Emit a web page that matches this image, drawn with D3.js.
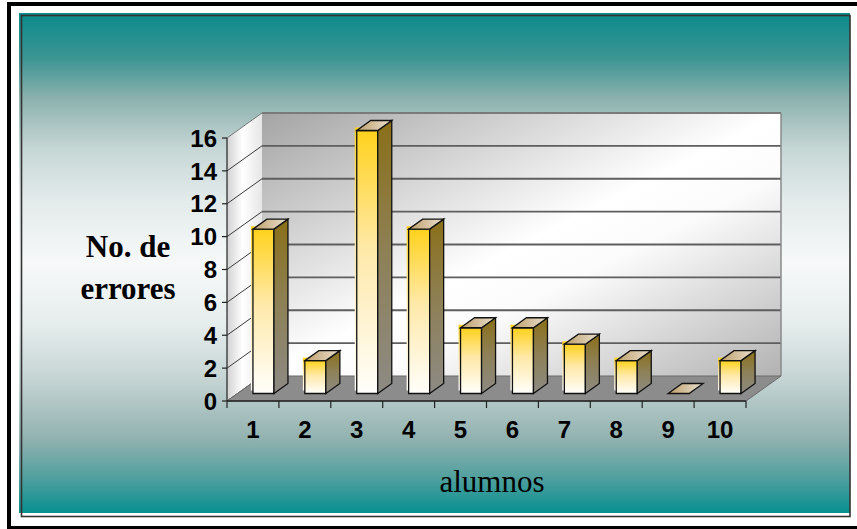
<!DOCTYPE html>
<html>
<head>
<meta charset="utf-8">
<script src="https://cdn.jsdelivr.net/npm/d3@7"></script>
<style>
  html, body { margin: 0; padding: 0; background: #ffffff; }
  svg { display: block; }
</style>
</head>
<body>
<svg id="chart" width="857" height="529"></svg>
<script>
// Errors per student
const categories = ["1", "2", "3", "4", "5", "6", "7", "8", "9", "10"];
const errores = [10, 2, 16, 10, 4, 4, 3, 2, 0, 2];
const yTicks = [0, 2, 4, 6, 8, 10, 12, 14, 16];
const yTitle = ["No. de", "errores"];
const xTitle = "alumnos";

const svg = d3.select("#chart");
const defs = svg.append("defs");

// Plot geometry (front plane) and depth offset for the 3D look
const FRONT_LEFT = 227, FRONT_RIGHT = 746;
const DX = 35, DY = -25;
const Z0 = 0.3, Z1 = 0.7;   // bar depth inside the floor

const x = d3.scaleBand().domain(categories).range([FRONT_LEFT, FRONT_RIGHT]).padding(0);
const y = d3.scaleLinear().domain([0, 16]).range([401, 138]);
const barW = x.bandwidth() * 0.405;

const proj = (px, v, z) => [px + DX * z, y(v) + DY * z];
const poly = pts => pts.map(p => p.join(",")).join(" ");

function linGrad(id, x1, y1, x2, y2, stops, units) {
  const g = defs.append("linearGradient").attr("id", id)
    .attr("x1", x1).attr("y1", y1).attr("x2", x2).attr("y2", y2);
  if (units) g.attr("gradientUnits", units);
  stops.forEach(([o, c]) => g.append("stop").attr("offset", o).attr("stop-color", c));
}

linGrad("bg", 0, 0, 0, 1, [
  [0, "#0a8b8b"], [0.09, "#3b9593"], [0.17, "#8bb1ae"], [0.27, "#c5d6d4"],
  [0.37, "#e2eaea"], [0.5, "#f7f9f9"], [0.62, "#e6eded"], [0.73, "#c6d5d4"],
  [0.85, "#92b2b0"], [0.93, "#50a09e"], [1, "#079090"]
]);
linGrad("backwall", 0, 0, 1, 1, [[0, "#a4a4a4"], [0.5, "#ffffff"], [0.62, "#fbfbfb"], [1, "#b2b2b2"]]);
linGrad("leftwall", 0, 0, 1, 0, [[0, "#d2d2d2"], [0.45, "#ffffff"], [1, "#e6e6e6"]]);
linGrad("front", 0, 0, 0, 1, [[0, "#ffd21c"], [0.45, "#ffe9a8"], [1, "#fffefb"]]);
linGrad("side", 0, 0, 0, 1, [[0, "#8a6f18"], [0.5, "#8e8158"], [1, "#8c8a84"]]);
linGrad("top", 0, 0, 1, 0, [[0, "#bfa06a"], [1, "#e9e0d0"]]);

// Page frame and chart area
svg.append("rect").attr("x", 9).attr("y", 4).attr("width", 852).attr("height", 524)
  .attr("fill", "none").attr("stroke", "#000").attr("stroke-width", 4);
svg.append("rect").attr("x", 19).attr("y", 13).attr("width", 831).attr("height", 500)
  .attr("fill", "url(#bg)");
svg.append("rect").attr("x", 21.5).attr("y", 15.5).attr("width", 828.5).attr("height", 501)
  .attr("fill", "none").attr("stroke", "#333", 1).attr("stroke-width", 1.6);

const plot = svg.append("g");

// Walls and floor
const vMax = 16;
plot.append("polygon")
  .attr("points", poly([proj(FRONT_LEFT, vMax, 0), proj(FRONT_LEFT, vMax, 1), proj(FRONT_LEFT, 0, 1), proj(FRONT_LEFT, 0, 0)]))
  .attr("fill", "url(#leftwall)");
plot.append("polygon")
  .attr("points", poly([proj(FRONT_LEFT, vMax, 1), proj(FRONT_RIGHT, vMax, 1), proj(FRONT_RIGHT, 0, 1), proj(FRONT_LEFT, 0, 1)]))
  .attr("fill", "url(#backwall)");

// Gridlines on back wall and left wall
plot.selectAll("line.grid").data(yTicks.filter(v => v > 0)).join("line")
  .attr("class", "grid")
  .attr("x1", proj(FRONT_LEFT, 0, 1)[0]).attr("x2", proj(FRONT_RIGHT, 0, 1)[0])
  .attr("y1", v => proj(0, v, 1)[1]).attr("y2", v => proj(0, v, 1)[1])
  .attr("stroke", v => v === vMax ? "#7a7a7a" : "#5e5e5e").attr("stroke-width", 1.8);
plot.selectAll("line.lgrid").data(yTicks).join("line")
  .attr("class", "lgrid")
  .attr("x1", FRONT_LEFT).attr("y1", v => y(v))
  .attr("x2", v => proj(FRONT_LEFT, v, 1)[0]).attr("y2", v => proj(FRONT_LEFT, v, 1)[1])
  .attr("stroke", v => v === vMax ? "#777" : "#3a3a3a").attr("stroke-width", 1);
// right edge of back wall
plot.append("line")
  .attr("x1", proj(FRONT_RIGHT, vMax, 1)[0]).attr("y1", proj(FRONT_RIGHT, vMax, 1)[1])
  .attr("x2", proj(FRONT_RIGHT, 0, 1)[0]).attr("y2", proj(FRONT_RIGHT, 0, 1)[1])
  .attr("stroke", "#8a8a8a").attr("stroke-width", 1.5);

plot.append("polygon")
  .attr("points", poly([proj(FRONT_LEFT, 0, 0), proj(FRONT_RIGHT, 0, 0), proj(FRONT_RIGHT, 0, 1), proj(FRONT_LEFT, 0, 1)]))
  .attr("fill", "#8c8c8c").attr("stroke", "#6a6a6a").attr("stroke-width", 1);

// Bars
const bars = plot.selectAll("g.bar").data(categories.map((c, i) => ({ c, v: errores[i] }))).join("g")
  .attr("class", "bar");

bars.each(function (d) {
  const g = d3.select(this);
  const xs = x(d.c) + (x.bandwidth() - barW) / 2;
  const xe = xs + barW;
  if (d.v > 0) {
    const f = [proj(xs, d.v, Z0), proj(xe, d.v, Z0), proj(xe, 0, Z0), proj(xs, 0, Z0)];
    // slightly offset colour layer behind the outlined face
    g.append("polygon").attr("points", poly(f.map(p => [p[0] - 2, p[1] - 3])))
      .attr("fill", "url(#front)");
    g.append("polygon").attr("points", poly(f))
      .attr("fill", "url(#front)").attr("stroke", "#111").attr("stroke-width", 1.3);
    g.append("polygon")
      .attr("points", poly([proj(xe, d.v, Z0), proj(xe, d.v, Z1), proj(xe, 0, Z1), proj(xe, 0, Z0)]))
      .attr("fill", "url(#side)").attr("stroke", "#111").attr("stroke-width", 1.3);
  }
  g.append("polygon")
    .attr("points", poly([proj(xs, d.v, Z0), proj(xe, d.v, Z0), proj(xe, d.v, Z1), proj(xs, d.v, Z1)]))
    .attr("fill", "url(#top)").attr("stroke", "#111").attr("stroke-width", 1.3);
});

// Axes
const axisG = svg.append("g");
axisG.append("line").attr("x1", FRONT_LEFT).attr("x2", FRONT_LEFT).attr("y1", y(vMax)).attr("y2", y(0))
  .attr("stroke", "#222").attr("stroke-width", 1.2);
axisG.append("line").attr("x1", FRONT_LEFT).attr("x2", FRONT_RIGHT).attr("y1", y(0)).attr("y2", y(0))
  .attr("stroke", "#222").attr("stroke-width", 1.5);
axisG.selectAll("line.yt").data(yTicks).join("line").attr("class", "yt")
  .attr("x1", FRONT_LEFT - 5).attr("x2", FRONT_LEFT).attr("y1", v => y(v)).attr("y2", v => y(v))
  .attr("stroke", "#222").attr("stroke-width", 1.2);
const xEdges = categories.map(c => x(c)).concat([FRONT_RIGHT]);
axisG.selectAll("line.xt").data(xEdges).join("line").attr("class", "xt")
  .attr("x1", d => d).attr("x2", d => d).attr("y1", y(0)).attr("y2", y(0) + 7)
  .attr("stroke", "#222").attr("stroke-width", 1.2);

axisG.selectAll("text.yl").data(yTicks).join("text").attr("class", "yl")
  .attr("x", 217).attr("y", v => y(v)).attr("dy", "0.36em")
  .attr("text-anchor", "end")
  .attr("font-family", "Liberation Sans, Arial, sans-serif").attr("font-weight", "bold")
  .attr("font-size", 24).attr("fill", "#000")
  .text(v => v);

axisG.selectAll("text.xl").data(categories).join("text").attr("class", "xl")
  .attr("x", c => x(c) + x.bandwidth() / 2).attr("y", 438)
  .attr("text-anchor", "middle")
  .attr("font-family", "Liberation Sans, Arial, sans-serif").attr("font-weight", "bold")
  .attr("font-size", 24).attr("fill", "#000")
  .text(c => c);

// Titles
svg.selectAll("text.yt").data(yTitle).join("text").attr("class", "yt")
  .attr("x", 128).attr("y", (d, i) => 257 + i * 42)
  .attr("text-anchor", "middle")
  .attr("font-family", "Liberation Serif, 'Times New Roman', serif").attr("font-weight", "bold")
  .attr("font-size", 31).attr("fill", "#000")
  .text(d => d);

svg.append("text")
  .attr("x", 492).attr("y", 492).attr("text-anchor", "middle")
  .attr("font-family", "Liberation Serif, 'Times New Roman', serif")
  .attr("font-size", 31).attr("fill", "#000")
  .text(xTitle);
</script>
</body>
</html>
